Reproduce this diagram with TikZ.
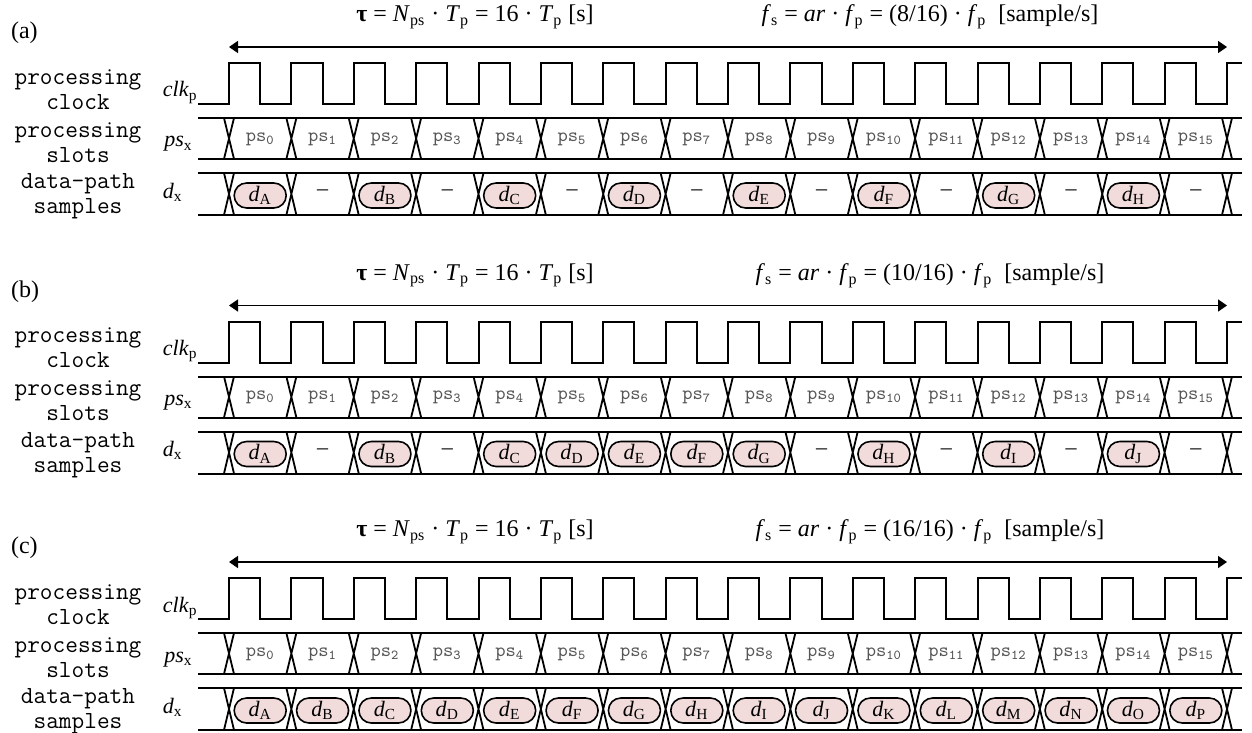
\documentclass[tikz,border=0pt]{standalone}
\usepackage{fontspec}
\usepackage{ifthen}
\setmainfont{Liberation Serif}
\usetikzlibrary{arrows.meta}
\definecolor{samplefill}{RGB}{242, 220, 219}
\definecolor{slotgray}{RGB}{85, 85, 85}

\begin{document}
\begin{tikzpicture}[x=0.5pt, y=-0.5pt,
    wave/.style={line width=1pt},
    bus/.style={line width=1pt},
    xing/.style={line width=0.9pt},
    rowname/.style={font=\fontsize{12.3}{12.5}\selectfont\ttfamily, align=center},
    signal/.style={font=\fontsize{11}{13}\selectfont, inner sep=0pt},
    slotlabel/.style={font=\fontsize{9.8}{10}\selectfont\ttfamily, text=slotgray},
    datum/.style={draw, line width=0.8pt, fill=samplefill, rounded corners=6.2pt,
        minimum width=26pt, minimum height=12.5pt, inner sep=0pt,
        font=\fontsize{11}{12}\selectfont},
    formula/.style={font=\fontsize{12}{14}\selectfont}]

  \useasboundingbox (0,0) rectangle (1252,733);

  \foreach \dy/\pan/\ratio/\cells in {
      0/a/8/{A,-,B,-,C,-,D,-,E,-,F,-,G,-,H,-},
      258.5/b/10/{A,-,B,-,C,D,E,F,G,-,H,-,I,-,J,-},
      515/c/16/{A,B,C,D,E,F,G,H,I,J,K,L,M,N,O,P}}{
  \begin{scope}[shift={(0,\dy)}]
    % Panel tag, frame length and sample rate
    \node[formula, anchor=west] (tag\pan) at (4,33) {(\pan)};
    \coordinate (left\pan) at (229,47);
    \coordinate (right\pan) at (1227,47);
    \draw[line width=0.75pt, {Triangle[length=4.5pt,width=6pt]}-{Triangle[length=4.5pt,width=6pt]}]
        (left\pan) -- (right\pan);
    \node[formula] (tau\pan) at (475,17)
        {\textbf{τ} = \textit{N}\textsubscript{ps} · \textit{T}\textsubscript{p} = 16 · \textit{T}\textsubscript{p} [s]};
    \node[formula] (fs\pan) at (930,17)
        {\textit{f}\textsubscript{s} = \textit{ar} · \textit{f}\textsubscript{p} = (\ratio/16) · \textit{f}\textsubscript{p}\ \ [sample/s]};

    % Row names
    \node[rowname] (nclk\pan) at (78,89.5) {processing\\clock};
    \node[rowname] (nps\pan) at (78,142.5) {processing\\slots};
    \node[rowname] (nd\pan) at (78,196.5) {data-path\\samples};
    \node[signal, anchor=base east] (clk\pan) at (198,97) {\textit{clk}\textsubscript{p}};
    \node[signal, anchor=base east] (psx\pan) at (193,147) {\textit{ps}\textsubscript{x}};
    \node[signal, anchor=base east] (dx\pan) at (183,198) {\textit{d}\textsubscript{x}};

    % Processing clock
    \draw[wave] (198,104) -- (229,104)
      \foreach \k in {0,...,15} { -- ++(0,-41) -- ++(31.1875,0) -- ++(0,41) -- ++(31.1875,0) }
      -- ++(0,-41) -- (1242,63);

    % Bus rows with crossings
    \draw[bus] (198,118) -- (1242,118) (198,159) -- (1242,159)
               (198,173) -- (1242,173) (198,215) -- (1242,215);
    \foreach \k in {0,...,16} {
      \pgfmathsetmacro\xk{229+62.375*\k}
      \draw[xing] (\xk-5,118) -- (\xk+5,159) (\xk+5,118) -- (\xk-5,159)
                  (\xk-5,173) -- (\xk+5,215) (\xk+5,173) -- (\xk-5,215);
    }

    % Slots
    \foreach \k in {0,...,15}
      \node[slotlabel] (ps\pan\k) at (229+62.375*\k+31.19,139) {ps\textsubscript{\k}};

    % Samples
    \foreach \s [count=\k from 0] in \cells {
      \ifthenelse{\equal{\s}{-}}
        {\node[signal] (d\pan\k) at (229+62.375*\k+31.19,193) {–};}
        {\node[datum] (d\pan\k) at (229+62.375*\k+31.19,195.5) {\textit{d}\textsubscript{\s}};}
    }
  \end{scope}}
\end{tikzpicture}
\end{document}
